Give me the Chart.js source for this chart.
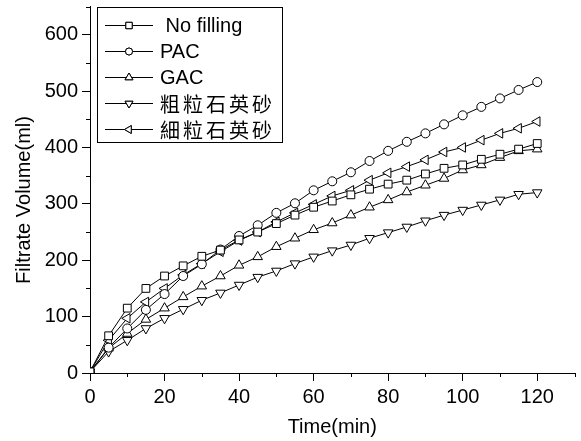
<!DOCTYPE html>
<html>
<head>
<meta charset="utf-8">
<script src="https://cdn.jsdelivr.net/npm/chart.js@4/dist/chart.umd.min.js"></script>
<style>
  html, body { margin: 0; padding: 0; background: #fff; }
  #wrap { width: 581px; height: 441px; }
</style>
</head>
<body>
<div id="wrap"><canvas id="filtrateChart" width="581" height="441"></canvas></div>
<script>
// temps de filtration (min)
const times = [0, 5, 10, 15, 20, 25, 30, 35, 40, 45, 50, 55, 60, 65, 70, 75, 80, 85, 90, 95, 100, 105, 110, 115, 120];

// volumes de filtrat (ml)
const noFilling = [2, 66, 115, 150, 172, 190, 207, 218, 236, 250, 265, 280, 294, 305, 316, 326, 335, 342, 353, 363, 369, 379, 388, 397, 407];
const pac       = [2, 45, 79, 112, 140, 172, 193, 219, 243, 262, 284, 301, 324, 340, 356, 376, 394, 410, 425, 441, 457, 472, 487, 502, 516];
const gac       = [2, 44, 70, 95, 115, 135, 154, 172, 191, 206, 224, 239, 254, 266, 280, 294, 307, 321, 333, 345, 360, 369, 382, 394, 397];
const coarseSand = [2, 38, 58, 79, 97, 113, 129, 142, 156, 170, 181, 194, 206, 217, 227, 239, 249, 259, 270, 280, 289, 298, 307, 317, 320];
const fineSand  = [2, 58, 97, 126, 150, 174, 194, 215, 235, 250, 268, 284, 299, 314, 324, 342, 355, 366, 378, 392, 400, 413, 425, 434, 446];

const seriesLabels = [' No filling', 'PAC', 'GAC', '粗粒石英砂', '細粒石英砂'];
const xTicks = [0, 20, 40, 60, 80, 100, 120];
const yTicks = [0, 100, 200, 300, 400, 500, 600];

const FONT = "'Liberation Sans', Arial, sans-serif";
const CJK_FONT = "'Noto Sans CJK TC', 'Noto Sans CJK SC', sans-serif";

function toPoints(values) {
    return values.map((v, i) => ({ x: times[i], y: v }));
}

function makeDataset(label, values, style, rotation, radius) {
    return {
        label: label,
        data: toPoints(values),
        borderColor: '#000',
        borderWidth: 1,
        pointStyle: style,
        rotation: rotation,
        pointRadius: radius,
        pointHoverRadius: radius,
        pointBackgroundColor: '#fff',
        pointBorderColor: '#000',
        pointBorderWidth: 1,
        tension: 0,
        fill: false
    };
}

// graduations secondaires + titres des axes
const axisExtras = {
    id: 'axisExtras',
    afterDraw(chart) {
        const ctx = chart.ctx;
        const xs = chart.scales.x, ys = chart.scales.y;
        const area = chart.chartArea;
        ctx.save();
        ctx.strokeStyle = '#000';
        ctx.lineWidth = 1;
        ctx.beginPath();
        for (let v = 10; v <= 130; v += 20) {
            const px = Math.round(xs.getPixelForValue(v)) + 0.5;
            ctx.moveTo(px, area.bottom);
            ctx.lineTo(px, area.bottom + 4);
        }
        for (let v = 50; v <= 650; v += 100) {
            const py = Math.round(ys.getPixelForValue(v)) + 0.5;
            ctx.moveTo(area.left, py);
            ctx.lineTo(area.left - 4, py);
        }
        ctx.stroke();

        ctx.fillStyle = '#000';
        ctx.font = '20px ' + FONT;
        ctx.textAlign = 'center';
        ctx.textBaseline = 'middle';
        ctx.fillText('Time(min)', (area.left + area.right) / 2, 427);
        ctx.translate(24, 200);
        ctx.rotate(-Math.PI / 2);
        ctx.fillText('Filtrate Volume(ml)', 0, 0);
        ctx.restore();
    }
};

// légende encadrée avec trait + symbole
const boxLegend = {
    id: 'boxLegend',
    afterDraw(chart) {
        const ctx = chart.ctx;
        const left = 97.5, top = 7.5, right = 282.5, bottom = 142.5;
        ctx.save();
        ctx.strokeStyle = '#000';
        ctx.lineWidth = 1;
        ctx.strokeRect(left, top, right - left, bottom - top);
        chart.data.datasets.forEach((ds, i) => {
            const y = 25 + i * 26;
            ctx.beginPath();
            ctx.moveTo(105, y + 0.5);
            ctx.lineTo(153, y + 0.5);
            ctx.strokeStyle = '#000';
            ctx.lineWidth = 1;
            ctx.stroke();
            ctx.fillStyle = '#fff';
            ctx.strokeStyle = '#000';
            Chart.helpers.drawPoint(ctx, {
                pointStyle: ds.pointStyle,
                rotation: ds.rotation,
                radius: ds.pointRadius - 1,
                borderWidth: 1
            }, 129, y + 0.5);
            ctx.fill();
            ctx.stroke();
            ctx.fillStyle = '#000';
            ctx.textAlign = 'left';
            ctx.textBaseline = 'middle';
            if (/[\u4e00-\u9fff]/.test(ds.label)) {
                ctx.font = '20px ' + CJK_FONT;
                ctx.letterSpacing = '3px';
            } else {
                ctx.font = '20px ' + FONT;
                ctx.letterSpacing = '0px';
            }
            ctx.fillText(ds.label, 160, y + 1);
        });
        ctx.restore();
    }
};

new Chart(document.getElementById('filtrateChart'), {
    type: 'line',
    data: {
        datasets: [
            makeDataset(seriesLabels[0], noFilling, 'rect', 0, 5.5),
            makeDataset(seriesLabels[1], pac, 'circle', 0, 4.5),
            makeDataset(seriesLabels[2], gac, 'triangle', 0, 5.5),
            makeDataset(seriesLabels[3], coarseSand, 'triangle', 180, 5.5),
            makeDataset(seriesLabels[4], fineSand, 'triangle', 270, 5.5)
        ]
    },
    options: {
        responsive: false,
        animation: false,
        layout: { padding: { left: 0, top: 6, right: 3, bottom: 0 } },
        plugins: {
            legend: { display: false },
            tooltip: { enabled: false }
        },
        scales: {
            x: {
                type: 'linear',
                min: 0,
                max: 130,
                afterBuildTicks: scale => { scale.ticks = xTicks.map(v => ({ value: v })); },
                afterFit: scale => {
                    scale.height = 68;
                    scale.paddingLeft = 0;
                    scale.paddingRight = 0;
                },
                ticks: { color: '#000', font: { size: 20, family: FONT }, padding: 4, maxRotation: 0 },
                grid: { drawOnChartArea: false, drawTicks: true, tickLength: 8, color: '#000' },
                border: { display: true, color: '#000', width: 1 }
            },
            y: {
                min: 0,
                max: 650,
                afterBuildTicks: scale => { scale.ticks = yTicks.map(v => ({ value: v })); },
                afterFit: scale => {
                    scale.width = 90;
                    scale.paddingTop = 0;
                    scale.paddingBottom = 0;
                },
                ticks: { color: '#000', font: { size: 20, family: FONT }, padding: 4 },
                grid: { drawOnChartArea: false, drawTicks: true, tickLength: 8, color: '#000' },
                border: { display: true, color: '#000', width: 1 }
            }
        }
    },
    plugins: [axisExtras, boxLegend]
});
</script>
</body>
</html>
